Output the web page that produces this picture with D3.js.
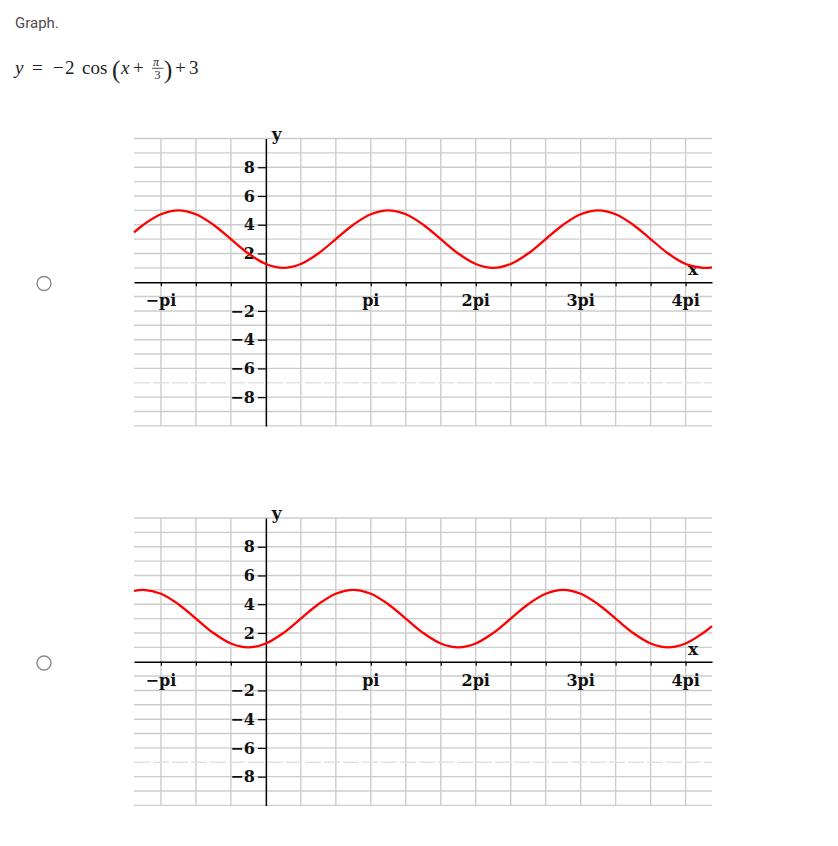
<!DOCTYPE html>
<html>
<head>
<meta charset="utf-8">
<script src="https://cdn.jsdelivr.net/npm/d3@7"></script>
<style>
  html, body { margin: 0; padding: 0; background: #fff; }
  svg { display: block; }
</style>
</head>
<body>
<svg id="chart" width="838" height="846"></svg>
<script>
// ---------- data (x positions are in units of pi/6) ----------
const gridX = [-6, -4, -2, 2, 4, 6, 8, 10, 12, 14, 16, 18, 20, 22, 24];
const gridY = [-10, -9, -8, -7, -6, -5, -4, -3, -2, -1, 1, 2, 3, 4, 5, 6, 7, 8, 9, 10];
const xTickPos = [-6, -4, -2, 2, 4, 6, 8, 10, 12, 14, 16, 18, 20, 22, 24];
const xLabelPos = [-6, 6, 12, 18, 24];
const xLabels = ["\u2212pi", "pi", "2pi", "3pi", "4pi"];
const yTicks = [8, 6, 4, 2, -2, -4, -6, -8];
const yTickLabels = ["8", "6", "4", "2", "\u22122", "\u22124", "\u22126", "\u22128"];
const xDomain = [-7.54, 25.51];
const yDomain = [-10, 10];

const curveX = [-7.54, -7, -6, -5, -4, -3, -2, -1, 0, 1, 2, 3, 4, 5, 6, 7, 8, 9, 10,
  11, 12, 13, 14, 15, 16, 17, 18, 19, 20, 21, 22, 23, 24, 25, 25.51];
const curve1Y = [3.46, 4, 4.73, 5, 4.73, 4, 3, 2, 1.27, 1, 1.27, 2, 3, 4, 4.73, 5, 4.73, 4, 3,
  2, 1.27, 1, 1.27, 2, 3, 4, 4.73, 5, 4.73, 4, 3, 2, 1.27, 1, 1.03];
const curve2Y = [4.92, 5, 4.73, 4, 3, 2, 1.27, 1, 1.27, 2, 3, 4, 4.73, 5, 4.73, 4, 3, 2, 1.27,
  1, 1.27, 2, 3, 4, 4.73, 5, 4.73, 4, 3, 2, 1.27, 1, 1.27, 2, 2.48];

// ---------- drawing ----------
const svg = d3.select("#chart");
const labelFont = "DejaVu Serif";
const mathFont = "Liberation Serif";

// header text
svg.append("text").attr("x", 15).attr("y", 28)
  .attr("font-family", "Roboto").attr("font-size", 15)
  .attr("fill", "#4d4d4d").text("Graph.");

const eq = svg.append("g").attr("font-family", mathFont).attr("fill", "#222");
function eqText(x, y, s, size, style) {
  eq.append("text").attr("x", x).attr("y", y).attr("font-size", size)
    .attr("font-family", mathFont)
    .attr("font-style", style || "normal").text(s);
}
eqText(15, 74, "y", 19, "italic");
eqText(32, 74, "=", 19);
eqText(53, 74, "\u2212", 19);
eqText(65, 74, "2", 19);
eqText(82, 74, "cos", 19);
eqText(112, 78, "(", 25);
eqText(121, 74, "x", 19, "italic");
eqText(133, 74, "+", 19);
eqText(153, 66, "\u03c0", 12, "italic");
eq.append("line").attr("x1", 152).attr("x2", 163.5).attr("y1", 68.3).attr("y2", 68.3)
  .attr("stroke", "#222").attr("stroke-width", 0.8);
eqText(154.5, 79, "3", 12);
eqText(164, 78, ")", 25);
eqText(175, 74, "+", 19);
eqText(189, 74, "3", 19);

function panel(top, bottom, curveY, radioY) {
  const x = d3.scaleLinear().domain(xDomain).range([134, 712]);
  const y = d3.scaleLinear().domain(yDomain).range([bottom, top]);
  const g = svg.append("g");

  // radio button
  svg.append("circle").attr("cx", 44).attr("cy", radioY).attr("r", 7)
    .attr("fill", "#fff").attr("stroke", "#8a8a8a").attr("stroke-width", 1.4);

  // grid
  g.append("g").selectAll("line").data(gridX).join("line")
    .attr("x1", d => x(d)).attr("x2", d => x(d))
    .attr("y1", y(10)).attr("y2", y(-10))
    .attr("stroke", "#cccccc").attr("stroke-width", 1.4);
  g.append("g").selectAll("line").data(gridY).join("line")
    .attr("x1", x(xDomain[0])).attr("x2", x(xDomain[1]))
    .attr("y1", d => y(d)).attr("y2", d => y(d))
    .attr("stroke", d => d === -7 ? "#e2e2e2" : "#cccccc")
    .attr("stroke-dasharray", d => d === -7 ? "16 3" : null)
    .attr("stroke-width", 1.4);

  // x axis
  const xAxis = d3.axisBottom(x).tickValues(xTickPos).tickSize(4).tickSizeOuter(0)
    .tickFormat(() => "");
  const gx = g.append("g").attr("transform", `translate(0,${y(0)})`).call(xAxis);
  gx.select(".domain").attr("stroke", "#000").attr("stroke-width", 1.5);
  gx.selectAll(".tick line").attr("stroke", "#000").attr("stroke-width", 1.2);
  g.append("g").selectAll("text").data(xLabelPos).join("text")
    .attr("x", d => x(d)).attr("y", y(0) + 24)
    .attr("text-anchor", "middle").attr("font-family", labelFont)
    .attr("font-weight", "bold").attr("font-size", 16).attr("fill", "#111")
    .text((d, i) => xLabels[i]);

  // y axis
  const yAxis = d3.axisLeft(y).tickValues(yTicks).tickSize(8).tickPadding(3).tickSizeOuter(0)
    .tickFormat((d, i) => yTickLabels[i]);
  const gy = g.append("g").attr("transform", `translate(${x(0)},0)`).call(yAxis);
  gy.attr("font-family", labelFont).attr("font-size", 16);
  gy.select(".domain").attr("stroke", "#000").attr("stroke-width", 1.5);
  gy.selectAll(".tick line").attr("stroke", "#000").attr("stroke-width", 1.2);
  gy.selectAll(".tick text").attr("font-family", labelFont).attr("font-weight", "bold")
    .attr("font-size", 16).attr("fill", "#111");

  // axis names
  g.append("text").attr("x", x(0) + 6).attr("y", y(10) + 1)
    .attr("font-family", labelFont).attr("font-weight", "bold").attr("font-size", 17)
    .attr("fill", "#111").text("y");
  g.append("text").attr("x", 688).attr("y", y(0) - 7)
    .attr("font-family", labelFont).attr("font-weight", "bold").attr("font-size", 17)
    .attr("fill", "#111").text("x");

  // curve
  const pts = curveX.map((d, i) => [d, curveY[i]]);
  const line = d3.line().x(d => x(d[0])).y(d => y(d[1])).curve(d3.curveCatmullRom.alpha(0.5));
  g.append("path").datum(pts).attr("d", line)
    .attr("fill", "none").attr("stroke", "#ff0000").attr("stroke-width", 2.3)
    .attr("stroke-linejoin", "round");
}

panel(138.5, 425.9, curve1Y, 283.5);
panel(518.0, 805.4, curve2Y, 663.0);
</script>
</body>
</html>
